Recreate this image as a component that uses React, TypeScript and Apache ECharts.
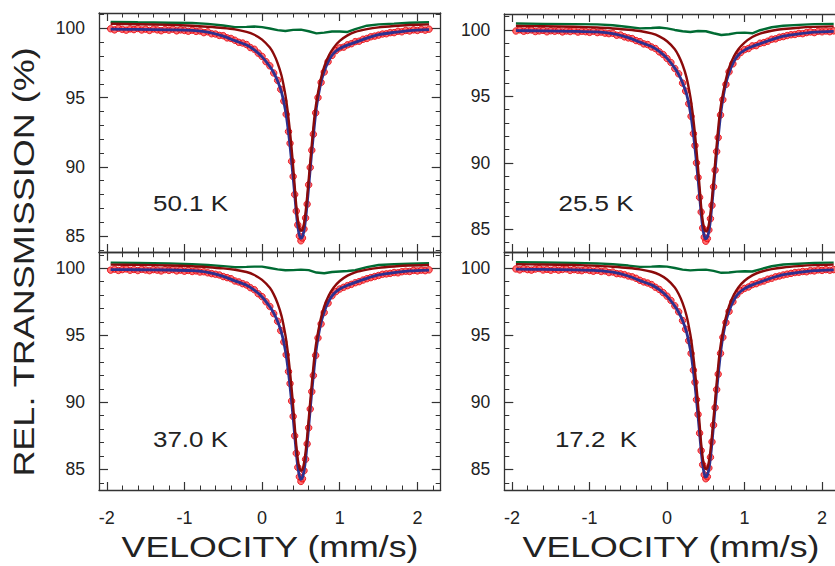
import React, { useEffect, useRef } from 'react';
import * as echarts from 'echarts';

// ---------- shared axes ----------
const xMajorTicks = [-2, -1, 0, 1, 2];
const xMinorTicks = [-2, -1.8, -1.6, -1.4, -1.2, -1, -0.8, -0.6, -0.4, -0.2, 0, 0.2, 0.4, 0.6, 0.8, 1, 1.2, 1.4, 1.6, 1.8, 2, 2.2];
const yMajorTicks = [85, 90, 95, 100];
const yMinorTicks = [84, 85, 86, 87, 88, 89, 90, 91, 92, 93, 94, 95, 96, 97, 98, 99, 100, 101];

// ---------- velocity channels (mm/s) ----------
const velocityData = [
  -1.95, -1.9, -1.85, -1.8, -1.75, -1.7, -1.65, -1.6, -1.55, -1.5,
  -1.45, -1.4, -1.35, -1.3, -1.25, -1.2, -1.15, -1.1, -1.05, -1.0,
  -0.95, -0.9, -0.85, -0.8, -0.75, -0.7, -0.65, -0.6, -0.55, -0.5,
  -0.45, -0.4, -0.35, -0.3, -0.25, -0.2, -0.15, -0.1, -0.05, 0.0,
  0.05, 0.1, 0.15, 0.2, 0.24, 0.28, 0.31, 0.34, 0.36, 0.38,
  0.4, 0.42, 0.44, 0.46, 0.48, 0.5, 0.52, 0.54, 0.56, 0.58,
  0.6, 0.62, 0.64, 0.66, 0.69, 0.72, 0.76, 0.8, 0.85, 0.9,
  0.95, 1.0, 1.05, 1.1, 1.15, 1.2, 1.25, 1.3, 1.35, 1.4,
  1.45, 1.5, 1.55, 1.6, 1.65, 1.7, 1.75, 1.8, 1.85, 1.9,
  1.95, 2.0, 2.05, 2.1, 2.15,
];
const velocityFit = [
  -1.95, -1.6, -1.2, -0.9, -0.7, -0.5, -0.35, -0.2, -0.1, 0,
  0.1, 0.15, 0.2, 0.25, 0.3, 0.33, 0.36, 0.39, 0.42, 0.44,
  0.46, 0.48, 0.5, 0.52, 0.54, 0.56, 0.58, 0.61, 0.64, 0.67,
  0.7, 0.75, 0.8, 0.86, 0.92, 1, 1.1, 1.2, 1.35, 1.5,
  1.7, 1.9, 2.15,
];
const velocityBroad = [
  -1.95, -1.6, -1.2, -0.9, -0.7, -0.5, -0.35, -0.2, -0.1, 0,
  0.1, 0.2, 0.3, 0.4, 0.5, 0.6, 0.7, 0.8, 0.9, 1,
  1.1, 1.2, 1.35, 1.5, 1.7, 1.9, 2.15,
];

// ---------- 50.1 K ----------
const data50 = [
  99.98, 99.9, 100.02, 99.94, 99.88, 99.97, 99.92, 100.0, 99.89, 99.95,
  99.86, 99.96, 99.9, 99.84, 99.93, 99.88, 99.95, 99.83, 99.9, 99.86,
  99.8, 99.88, 99.79, 99.82, 99.7, 99.76, 99.62, 99.6, 99.5, 99.48,
  99.32, 99.28, 99.15, 99.0, 98.95, 98.84, 98.62, 98.5, 98.22, 97.98,
  97.6, 97.3, 96.78, 96.25, 95.6, 94.75, 93.8, 92.55, 91.7, 90.4,
  89.3, 88.0, 86.8, 85.8, 85.0, 84.65, 84.85, 85.5, 86.3, 87.3,
  88.7, 89.95, 91.2, 92.35, 93.9, 95.0, 96.1, 96.85, 97.6, 98.05,
  98.4, 98.6, 98.65, 98.82, 98.9, 99.05, 99.08, 99.22, 99.28, 99.4,
  99.45, 99.52, 99.6, 99.62, 99.7, 99.7, 99.8, 99.76, 99.86, 99.82,
  99.9, 99.86, 99.94, 99.88, 99.95,
];
const total50 = [
  99.95, 99.93, 99.9, 99.86, 99.74, 99.45, 99.12, 98.8, 98.45, 97.95,
  97.25, 96.8, 96.2, 95.4, 94.1, 92.95, 91.5, 89.8, 88.0, 86.7,
  85.7, 85.05, 84.83, 84.95, 85.4, 86.2, 87.3, 89.2, 91.1, 92.8,
  94.3, 95.9, 96.9, 97.7, 98.2, 98.55, 98.8, 99.0, 99.3, 99.55,
  99.72, 99.85, 99.92,
];
const main50 = [
  100.34, 100.31, 100.26, 100.2, 100.13, 100.04, 99.94, 99.76, 99.55, 99.2,
  98.62, 98.15, 97.5, 96.6, 95.2, 94.0, 92.5, 90.7, 88.6, 87.2,
  86.2, 85.6, 85.38, 85.45, 85.9, 86.7, 87.8, 89.7, 91.6, 93.4,
  94.7, 96.2, 97.25, 98.05, 98.6, 99.1, 99.5, 99.75, 99.95, 100.08,
  100.18, 100.25, 100.3,
];
const broad50 = [
  100.48, 100.45, 100.42, 100.4, 100.33, 100.22, 100.1, 100.12, 100.14, 100.1,
  100.0, 99.88, 99.82, 99.9, 99.92, 99.8, 99.65, 99.7, 99.78, 99.78,
  99.75, 99.95, 100.2, 100.3, 100.35, 100.42, 100.45,
];

// ---------- 25.5 K ----------
const data25 = [
  99.92, 100.01, 99.9, 99.96, 100.0, 99.88, 99.93, 99.97, 99.86, 99.94,
  99.9, 99.95, 99.85, 99.92, 99.88, 99.94, 99.84, 99.9, 99.87, 99.82,
  99.9, 99.8, 99.84, 99.76, 99.72, 99.75, 99.6, 99.62, 99.48, 99.4,
  99.35, 99.2, 99.12, 98.95, 98.9, 98.72, 98.6, 98.35, 98.15, 97.85,
  97.55, 97.1, 96.7, 96.0, 95.4, 94.45, 93.5, 92.2, 91.3, 90.0,
  88.9, 87.4, 86.3, 85.1, 84.4, 84.1, 84.3, 84.95, 85.8, 86.8,
  88.2, 89.45, 90.85, 91.9, 93.6, 94.75, 95.9, 96.85, 97.45, 98.0,
  98.3, 98.52, 98.6, 98.8, 98.82, 99.0, 99.05, 99.15, 99.3, 99.33,
  99.45, 99.5, 99.58, 99.64, 99.66, 99.74, 99.72, 99.8, 99.85, 99.8,
  99.9, 99.86, 99.92, 99.87, 99.93,
];
const total25 = [
  99.95, 99.93, 99.9, 99.85, 99.72, 99.42, 99.08, 98.75, 98.38, 97.86,
  97.13, 96.66, 96.03, 95.2, 93.85, 92.65, 91.15, 89.4, 87.5, 86.2,
  85.15, 84.5, 84.28, 84.4, 84.85, 85.7, 86.85, 88.8, 90.75, 92.5,
  94.05, 95.75, 96.78, 97.6, 98.12, 98.48, 98.75, 98.96, 99.27, 99.53,
  99.71, 99.84, 99.9,
];
const main25 = [
  100.3, 100.28, 100.24, 100.18, 100.11, 100.02, 99.92, 99.74, 99.52, 99.15,
  98.55, 98.05, 97.38, 96.45, 95.0, 93.75, 92.2, 90.3, 88.15, 86.7,
  85.65, 85.05, 84.85, 84.92, 85.38, 86.2, 87.35, 89.3, 91.3, 93.15,
  94.5, 96.05, 97.15, 97.98, 98.55, 99.05, 99.47, 99.73, 99.94, 100.07,
  100.17, 100.23, 100.27,
];
const broad25 = [
  100.48, 100.46, 100.44, 100.42, 100.35, 100.22, 100.12, 100.15, 100.18, 100.12,
  100.0, 99.9, 99.85, 99.92, 99.9, 99.75, 99.62, 99.68, 99.78, 99.8,
  99.75, 99.98, 100.2, 100.32, 100.38, 100.44, 100.46,
];

// ---------- 37.0 K ----------
const data37 = [
  99.86, 99.93, 99.84, 99.9, 99.95, 99.85, 99.91, 99.83, 99.92, 99.87,
  99.82, 99.9, 99.86, 99.8, 99.89, 99.84, 99.9, 99.8, 99.86, 99.78,
  99.84, 99.76, 99.8, 99.72, 99.74, 99.66, 99.6, 99.55, 99.5, 99.38,
  99.3, 99.22, 99.05, 98.98, 98.85, 98.75, 98.55, 98.4, 98.1, 97.88,
  97.5, 97.15, 96.62, 96.05, 95.35, 94.5, 93.55, 92.3, 91.4, 90.1,
  88.95, 87.5, 86.2, 85.15, 84.45, 84.1, 84.3, 84.9, 85.75, 86.9,
  88.1, 89.5, 90.8, 92.0, 93.5, 94.8, 95.85, 96.7, 97.4, 97.95,
  98.25, 98.45, 98.58, 98.7, 98.8, 98.92, 99.0, 99.12, 99.22, 99.3,
  99.38, 99.46, 99.55, 99.58, 99.62, 99.68, 99.66, 99.74, 99.78, 99.76,
  99.84, 99.8, 99.86, 99.82, 99.88,
];
const total37 = [
  99.9, 99.89, 99.87, 99.82, 99.7, 99.4, 99.06, 98.73, 98.37, 97.86,
  97.13, 96.66, 96.03, 95.2, 93.86, 92.67, 91.18, 89.45, 87.55, 86.25,
  85.2, 84.52, 84.25, 84.4, 84.88, 85.72, 86.88, 88.82, 90.78, 92.52,
  94.05, 95.72, 96.75, 97.56, 98.08, 98.45, 98.73, 98.95, 99.25, 99.5,
  99.68, 99.8, 99.86,
];
const main37 = [
  100.27, 100.25, 100.21, 100.15, 100.08, 99.99, 99.89, 99.72, 99.5, 99.13,
  98.54, 98.05, 97.38, 96.45, 95.02, 93.8, 92.25, 90.4, 88.25, 86.8,
  85.75, 85.12, 84.9, 84.98, 85.45, 86.28, 87.42, 89.38, 91.35, 93.2,
  94.55, 96.08, 97.15, 97.98, 98.55, 99.05, 99.45, 99.7, 99.9, 100.03,
  100.13, 100.2, 100.24,
];
const broad37 = [
  100.42, 100.4, 100.36, 100.3, 100.24, 100.16, 100.08, 100.1, 100.12, 100.12,
  100.02, 99.92, 99.85, 99.86, 99.9, 99.86, 99.68, 99.63, 99.72, 99.76,
  99.8, 99.85, 100.08, 100.24, 100.3, 100.34, 100.37,
];

// ---------- 17.2 K ----------
const data17 = [
  99.95, 99.88, 99.97, 99.9, 99.86, 99.94, 99.98, 99.87, 99.92, 99.85,
  99.93, 99.86, 99.91, 99.95, 99.84, 99.9, 99.85, 99.82, 99.9, 99.84,
  99.78, 99.85, 99.76, 99.8, 99.68, 99.72, 99.6, 99.58, 99.52, 99.42,
  99.36, 99.25, 99.1, 98.98, 98.9, 98.78, 98.58, 98.42, 98.18, 97.92,
  97.6, 97.2, 96.75, 96.1, 95.45, 94.6, 93.65, 92.4, 91.5, 90.2,
  89.1, 87.7, 86.4, 85.35, 84.6, 84.3, 84.45, 85.1, 85.9, 87.05,
  88.3, 89.6, 90.95, 92.1, 93.65, 94.85, 95.95, 96.78, 97.5, 98.02,
  98.32, 98.5, 98.6, 98.78, 98.85, 98.98, 99.05, 99.18, 99.25, 99.36,
  99.42, 99.5, 99.56, 99.62, 99.68, 99.7, 99.76, 99.74, 99.82, 99.8,
  99.88, 99.84, 99.9, 99.85, 99.9,
];
const total17 = [
  99.93, 99.91, 99.88, 99.83, 99.71, 99.42, 99.08, 98.76, 98.4, 97.9,
  97.18, 96.72, 96.1, 95.28, 93.95, 92.78, 91.3, 89.58, 87.7, 86.4,
  85.36, 84.68, 84.42, 84.56, 85.03, 85.86, 87.0, 88.93, 90.88, 92.6,
  94.12, 95.78, 96.8, 97.6, 98.12, 98.48, 98.76, 98.97, 99.27, 99.52,
  99.7, 99.82, 99.88,
];
const main17 = [
  100.3, 100.28, 100.24, 100.18, 100.11, 100.02, 99.92, 99.74, 99.52, 99.16,
  98.57, 98.08, 97.42, 96.5, 95.08, 93.88, 92.35, 90.5, 88.38, 86.92,
  85.88, 85.25, 85.02, 85.1, 85.57, 86.4, 87.53, 89.48, 91.43, 93.27,
  94.6, 96.12, 97.18, 98.0, 98.57, 99.07, 99.47, 99.72, 99.93, 100.06,
  100.16, 100.23, 100.27,
];
const broad17 = [
  100.45, 100.43, 100.4, 100.36, 100.3, 100.2, 100.1, 100.12, 100.15, 100.12,
  100.02, 99.9, 99.84, 99.88, 99.9, 99.8, 99.66, 99.68, 99.75, 99.78,
  99.76, 99.92, 100.15, 100.28, 100.34, 100.4, 100.42,
];

const temperatureLabels = ['50.1 K', '25.5 K', '37.0 K', '17.2  K'];
const panelData = [
  { data: data50, total: total50, main: main50, broad: broad50 },
  { data: data25, total: total25, main: main25, broad: broad25 },
  { data: data37, total: total37, main: main37, broad: broad37 },
  { data: data17, total: total17, main: main17, broad: broad17 },
];

// ---------- layout (pixels / axis ranges) ----------
const layout = [
  { left: 99, top: 13, width: 341.7, height: 239, xMin: -2.1, xMax: 2.3, yMin: 83.84, yMax: 101.12, xLabels: false, tx: 190.5, ty: 203 },
  { left: 504.3, top: 14, width: 341, height: 238, xMin: -2.1, xMax: 2.3, yMin: 83.29, yMax: 101.2, xLabels: false, tx: 596, ty: 203 },
  { left: 99, top: 252.7, width: 341.7, height: 237.3, xMin: -2.1, xMax: 2.3, yMin: 83.46, yMax: 101.16, xLabels: true, tx: 190.5, ty: 439 },
  { left: 504.3, top: 252.7, width: 341, height: 237.3, xMin: -2.1, xMax: 2.3, yMin: 83.46, yMax: 101.16, xLabels: true, tx: 596, ty: 439 },
];

const FONT = '"Liberation Sans", Arial, Helvetica, sans-serif';
const TEXT = '#222';
const AXIS = '#333';

function zip(xs: number[], ys: number[]) {
  return xs.map((x, i) => [x, ys[i]]);
}

function buildOption() {
  const grid: any[] = [];
  const xAxis: any[] = [];
  const yAxis: any[] = [];
  const series: any[] = [];

  layout.forEach((p, i) => {
    grid.push({ left: p.left, top: p.top, width: p.width, height: p.height, containLabel: false, outerBoundsMode: 'none' });

    const xBase = { type: 'value', gridIndex: i, min: p.xMin, max: p.xMax, splitLine: { show: false }, scale: true };
    const yBase = { type: 'value', gridIndex: i, min: p.yMin, max: p.yMax, splitLine: { show: false }, scale: true };
    const line = { show: true, onZero: false, lineStyle: { color: AXIS, width: 1.3 } };
    const noLine = { show: false, onZero: false };

    // x: bottom major, bottom minor, top major, top minor
    xAxis.push({
      ...xBase, position: 'bottom', axisLine: line,
      axisTick: { show: true, inside: true, length: 8, customValues: xMajorTicks, lineStyle: { color: AXIS, width: 1.2 } },
      axisLabel: { show: p.xLabels, customValues: xMajorTicks, margin: 19, fontSize: 18, fontFamily: FONT, color: TEXT },
    });
    xAxis.push({
      ...xBase, position: 'bottom', axisLine: noLine,
      axisTick: { show: true, inside: true, length: 4.5, customValues: xMinorTicks, lineStyle: { color: AXIS, width: 1 } },
      axisLabel: { show: false },
    });
    xAxis.push({
      ...xBase, position: 'top', axisLine: line,
      axisTick: { show: true, inside: true, length: 8, customValues: xMajorTicks, lineStyle: { color: AXIS, width: 1.2 } },
      axisLabel: { show: false },
    });
    xAxis.push({
      ...xBase, position: 'top', axisLine: noLine,
      axisTick: { show: true, inside: true, length: 4.5, customValues: xMinorTicks, lineStyle: { color: AXIS, width: 1 } },
      axisLabel: { show: false },
    });

    // y: left major, left minor, right major, right minor
    yAxis.push({
      ...yBase, position: 'left', axisLine: line,
      axisTick: { show: true, inside: true, length: 9, customValues: yMajorTicks, lineStyle: { color: AXIS, width: 1.2 } },
      axisLabel: { show: true, customValues: yMajorTicks, margin: 14, fontSize: 17.5, fontFamily: FONT, color: TEXT },
    });
    yAxis.push({
      ...yBase, position: 'left', axisLine: noLine,
      axisTick: { show: true, inside: true, length: 5, customValues: yMinorTicks, lineStyle: { color: AXIS, width: 1 } },
      axisLabel: { show: false },
    });
    yAxis.push({
      ...yBase, position: 'right', axisLine: line,
      axisTick: { show: true, inside: true, length: 9, customValues: yMajorTicks, lineStyle: { color: AXIS, width: 1.2 } },
      axisLabel: { show: false },
    });
    yAxis.push({
      ...yBase, position: 'right', axisLine: noLine,
      axisTick: { show: true, inside: true, length: 5, customValues: yMinorTicks, lineStyle: { color: AXIS, width: 1 } },
      axisLabel: { show: false },
    });

    const d = panelData[i];
    const ax = { xAxisIndex: i * 4, yAxisIndex: i * 4 };
    series.push({
      type: 'scatter', ...ax, data: zip(velocityData, d.data), symbol: 'circle', symbolSize: 6.5,
      itemStyle: { color: 'rgba(255,55,55,0.9)', borderColor: '#e3000b', borderWidth: 1 }, silent: true,
    });
    series.push({
      type: 'line', ...ax, data: zip(velocityFit, d.total), showSymbol: false, smooth: 0.25,
      lineStyle: { color: '#2b3190', width: 2.8 }, silent: true,
    });
    series.push({
      type: 'line', ...ax, data: zip(velocityBroad, d.broad), showSymbol: false,
      lineStyle: { color: '#006b33', width: 2.4 }, silent: true,
    });
    series.push({
      type: 'line', ...ax, data: zip(velocityFit, d.main), showSymbol: false, smooth: 0.25,
      lineStyle: { color: '#8b0a0a', width: 2.4 }, silent: true,
    });
  });

  const graphic: any[] = [
    {
      type: 'text', x: 24, y: 262, rotation: Math.PI / 2, scaleX: 1.2, scaleY: 1,
      style: { text: 'REL. TRANSMISSION (%)', font: `30px ${FONT}`, fill: TEXT, align: 'center', verticalAlign: 'middle' },
    },
    {
      type: 'text', x: 270, y: 547, scaleX: 1.19, scaleY: 1,
      style: { text: 'VELOCITY (mm/s)', font: `30px ${FONT}`, fill: TEXT, align: 'center', verticalAlign: 'middle' },
    },
    {
      type: 'text', x: 671, y: 547, scaleX: 1.19, scaleY: 1,
      style: { text: 'VELOCITY (mm/s)', font: `30px ${FONT}`, fill: TEXT, align: 'center', verticalAlign: 'middle' },
    },
  ];
  layout.forEach((p, i) => {
    graphic.push({
      type: 'text', x: p.tx, y: p.ty, scaleX: 1.18, scaleY: 1,
      style: { text: temperatureLabels[i], font: `22px ${FONT}`, fill: TEXT, align: 'center', verticalAlign: 'middle' },
    });
  });

  return {
    animation: false,
    backgroundColor: '#ffffff',
    grid,
    xAxis,
    yAxis,
    series,
    graphic,
  };
}

export default function App() {
  const ref = useRef<HTMLDivElement>(null);
  useEffect(() => {
    if (!ref.current) return;
    const chart = echarts.init(ref.current, undefined, { renderer: 'svg' });
    chart.setOption(buildOption() as any);
    return () => chart.dispose();
  }, []);
  return (
    <div
      ref={ref}
      style={{ position: 'absolute', left: 0, top: 0, width: 835, height: 566, overflow: 'hidden', background: '#fff' }}
    />
  );
}
